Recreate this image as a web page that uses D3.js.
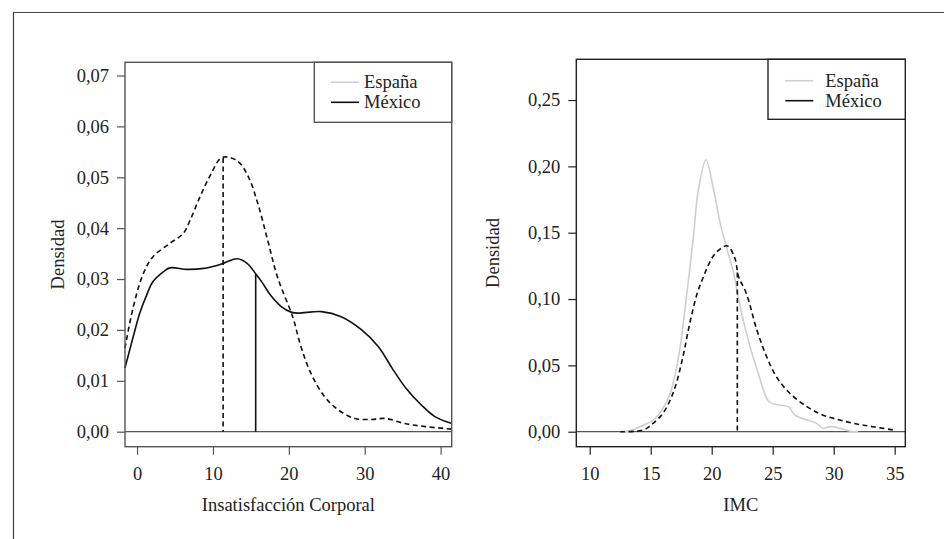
<!DOCTYPE html>
<html>
<head>
<meta charset="utf-8">
<title>Densidad - Insatisfacción Corporal e IMC</title>
<script src="https://cdn.jsdelivr.net/npm/d3@7"></script>
<style>
  body { margin: 0; background: #fff; }
  svg { display: block; }
  text { font-family: "Liberation Serif", "DejaVu Serif", serif; fill: #222; }
  .tick text { font-size: 18.5px; }
</style>
</head>
<body>
<svg id="chart" width="944" height="539"></svg>
<script>
// ---- data ----
// left panel: Insatisfacción Corporal
var icDashX = [-1.6, -0.5, 0.8, 2.1, 4.3, 6.1, 7.0, 8.3, 9.65, 11.0, 11.9, 13.4, 14.7, 15.9, 17.2, 18.5, 20.5, 21.6, 22.9, 24.7, 26.5, 28.7, 30.9, 32.7, 35.3, 38, 41.5];
var icDashY = [0.0164, 0.0245, 0.031, 0.0344, 0.037, 0.039, 0.0416, 0.0462, 0.0504, 0.0537, 0.054, 0.053, 0.050, 0.0449, 0.0377, 0.0304, 0.0226, 0.0167, 0.0115, 0.0069, 0.0043, 0.0026, 0.0024, 0.0026, 0.0016, 0.001, 0.0005];
var icSolidX = [-1.6, -0.5, 0.35, 1.25, 2.1, 3.45, 4.3, 6.6, 8.8, 11, 13.2, 14.5, 15.6, 16.5, 17.6, 19, 20.3, 21.2, 24.3, 26.9, 29.6, 31.8, 33.6, 35.3, 37.5, 39.3, 41.5];
var icSolidY = [0.0125, 0.0187, 0.0233, 0.0268, 0.0295, 0.0314, 0.0322, 0.0319, 0.0321, 0.0329, 0.034, 0.0331, 0.0311, 0.0293, 0.0268, 0.0246, 0.0235, 0.0233, 0.0236, 0.0226, 0.020, 0.0167, 0.0125, 0.0088, 0.0052, 0.0029, 0.0016];
var icMeans = [11.34, 15.63];          // dashed, solid
var icXTicks = [0, 10, 20, 30, 40];
var icYTicks = [0, 0.01, 0.02, 0.03, 0.04, 0.05, 0.06, 0.07];

// right panel: IMC
var imcGrayX = [12.5, 13.5, 14.1, 15.2, 16.0, 16.6, 17.0, 17.4, 17.7, 18.0, 18.5, 18.9, 19.53, 20.1, 20.7, 21.2, 21.8, 22.2, 23.0, 23.85, 24.7, 25.5, 26.3, 26.8, 27.8, 28.6, 29.1, 29.7, 30.5, 31.3, 32.0];
var imcGrayY = [0, 0.0012, 0.0038, 0.0088, 0.0176, 0.029, 0.043, 0.063, 0.084, 0.107, 0.147, 0.182, 0.205, 0.185, 0.157, 0.1395, 0.1195, 0.1, 0.069, 0.043, 0.0226, 0.0201, 0.0189, 0.0126, 0.0088, 0.0063, 0.0026, 0.0038, 0.0026, 0.0005, 0];
var imcDashX = [12.5, 14.4, 15.2, 16.0, 16.6, 17.1, 17.7, 18.2, 18.8, 19.2, 19.6, 20.1, 20.8, 21.3, 21.9, 22.2, 22.85, 23.7, 24.5, 25.3, 26.4, 27.8, 29.1, 30.5, 31.9, 33.2, 34.9];
var imcDashY = [0, 0.0013, 0.0063, 0.0139, 0.0239, 0.0365, 0.059, 0.0817, 0.104, 0.114, 0.123, 0.132, 0.1385, 0.14, 0.1308, 0.117, 0.104, 0.0767, 0.0566, 0.0415, 0.029, 0.0189, 0.0126, 0.0088, 0.0058, 0.0038, 0.0013];
var imcMean = 22.1;
var imcXTicks = [10, 15, 20, 25, 30, 35];
var imcYTicks = [0, 0.05, 0.10, 0.15, 0.20, 0.25];

var legendNames = ["España", "México"];
var legendColors = ["#cfcfcf", "#111"];

// ---- drawing ----
var svg = d3.select("#chart");
var es = d3.formatLocale({decimal: ",", thousands: ".", grouping: [3], currency: ["", "€"]});
var fmt = es.format(".2f");

// outer frame (only top and left edges show)
svg.append("path").attr("d", "M13.5,539V12.5H944")
  .attr("fill", "none").attr("stroke", "#444").attr("stroke-width", 1.2);

function zip(xs, ys) { return xs.map(function(x, i) { return [x, ys[i]]; }); }

function panel(cfg) {
  var x = d3.scaleLinear().domain(cfg.xDomain).range([cfg.left, cfg.right]);
  var y = d3.scaleLinear().domain(cfg.yDomain).range([cfg.bottom, cfg.top]);
  var g = svg.append("g");

  // zero line
  g.append("line")
    .attr("x1", cfg.left).attr("x2", cfg.right)
    .attr("y1", y(0)).attr("y2", y(0))
    .attr("stroke", "#555").attr("stroke-width", 1.2);

  var line = d3.line()
    .x(function(d) { return x(d[0]); })
    .y(function(d) { return y(d[1]); })
    .curve(d3.curveCatmullRom.alpha(0.5));

  cfg.curves.forEach(function(c) {
    g.append("path").datum(zip(c.xs, c.ys))
      .attr("d", line)
      .attr("fill", "none")
      .attr("stroke", c.color)
      .attr("stroke-width", 1.6)
      .attr("stroke-dasharray", c.dash ? "5,3.5" : null);
  });

  cfg.vlines.forEach(function(v) {
    g.append("line")
      .attr("x1", x(v.x)).attr("x2", x(v.x))
      .attr("y1", y(v.top)).attr("y2", y(0))
      .attr("stroke", "#111").attr("stroke-width", 1.6)
      .attr("stroke-dasharray", v.dash ? "5,3.5" : null);
  });

  // axes
  var ax = g.append("g").attr("transform", "translate(0," + cfg.bottom + ")")
    .call(d3.axisBottom(x).tickValues(cfg.xTicks).tickSize(8).tickPadding(12.5).tickFormat(d3.format("d")));
  var ay = g.append("g").attr("transform", "translate(" + cfg.left + ",0)")
    .call(d3.axisLeft(y).tickValues(cfg.yTicks).tickSize(8).tickPadding(8).tickFormat(fmt));
  [ax, ay].forEach(function(a) {
    a.select(".domain").remove();
    a.selectAll(".tick line").attr("stroke", cfg.boxColor).attr("stroke-width", 1.2);
    a.selectAll(".tick text").attr("fill", "#222").style("font-family", "Liberation Serif");
  });

  // box
  g.append("rect")
    .attr("x", cfg.left).attr("y", cfg.top)
    .attr("width", cfg.right - cfg.left).attr("height", cfg.bottom - cfg.top)
    .attr("fill", "none").attr("stroke", cfg.boxColor).attr("stroke-width", 1.4);

  // legend
  var lg = g.append("g");
  lg.append("rect")
    .attr("x", cfg.legLeft).attr("y", cfg.top)
    .attr("width", cfg.right - cfg.legLeft).attr("height", cfg.legBottom - cfg.top)
    .attr("fill", "#fff").attr("stroke", cfg.boxColor).attr("stroke-width", 1.4);
  legendNames.forEach(function(name, i) {
    var ly = cfg.legY + i * 20;
    lg.append("line")
      .attr("x1", cfg.legLineX).attr("x2", cfg.legLineX + 28)
      .attr("y1", ly).attr("y2", ly)
      .attr("stroke", legendColors[i]).attr("stroke-width", 1.6);
    lg.append("text")
      .attr("x", cfg.legTextX).attr("y", ly + 6)
      .style("font-size", "18.5px")
      .text(name);
  });

  // axis titles
  g.append("text")
    .attr("x", (cfg.left + cfg.right) / 2).attr("y", 511)
    .attr("text-anchor", "middle").style("font-size", "18.5px")
    .text(cfg.xTitle);
  g.append("text")
    .attr("transform", "translate(" + cfg.yTitleX + "," + (cfg.top + cfg.bottom) / 2 + ") rotate(-90)")
    .attr("text-anchor", "middle").attr("dy", "0.35em").style("font-size", "18.5px")
    .text("Densidad");
}

panel({
  left: 125, right: 451.7, top: 62.3, bottom: 446.7,
  xDomain: [-1.59, 41.46], yDomain: [-0.00295, 0.0726],
  xTicks: icXTicks, yTicks: icYTicks, boxColor: "#555",
  curves: [
    {xs: icDashX, ys: icDashY, color: "#111", dash: true},
    {xs: icSolidX, ys: icSolidY, color: "#111", dash: false}
  ],
  vlines: [
    {x: icMeans[0], top: 0.0538, dash: true},
    {x: icMeans[1], top: 0.031, dash: false}
  ],
  legLeft: 314.3, legBottom: 122.3, legY: 82.3, legLineX: 331, legTextX: 364,
  xTitle: "Insatisfacción Corporal", yTitleX: 57.5
});

panel({
  left: 576.3, right: 905.3, top: 59.3, bottom: 446.7,
  xDomain: [8.9, 35.87], yDomain: [-0.0113, 0.2807],
  xTicks: imcXTicks, yTicks: imcYTicks, boxColor: "#222",
  curves: [
    {xs: imcGrayX, ys: imcGrayY, color: "#cfcfcf", dash: false},
    {xs: imcDashX, ys: imcDashY, color: "#111", dash: true}
  ],
  vlines: [
    {x: imcMean, top: 0.12, dash: true}
  ],
  legLeft: 768, legBottom: 119.3, legY: 80.7, legLineX: 785.3, legTextX: 825.3,
  xTitle: "IMC", yTitleX: 492.8
});
</script>
</body>
</html>
